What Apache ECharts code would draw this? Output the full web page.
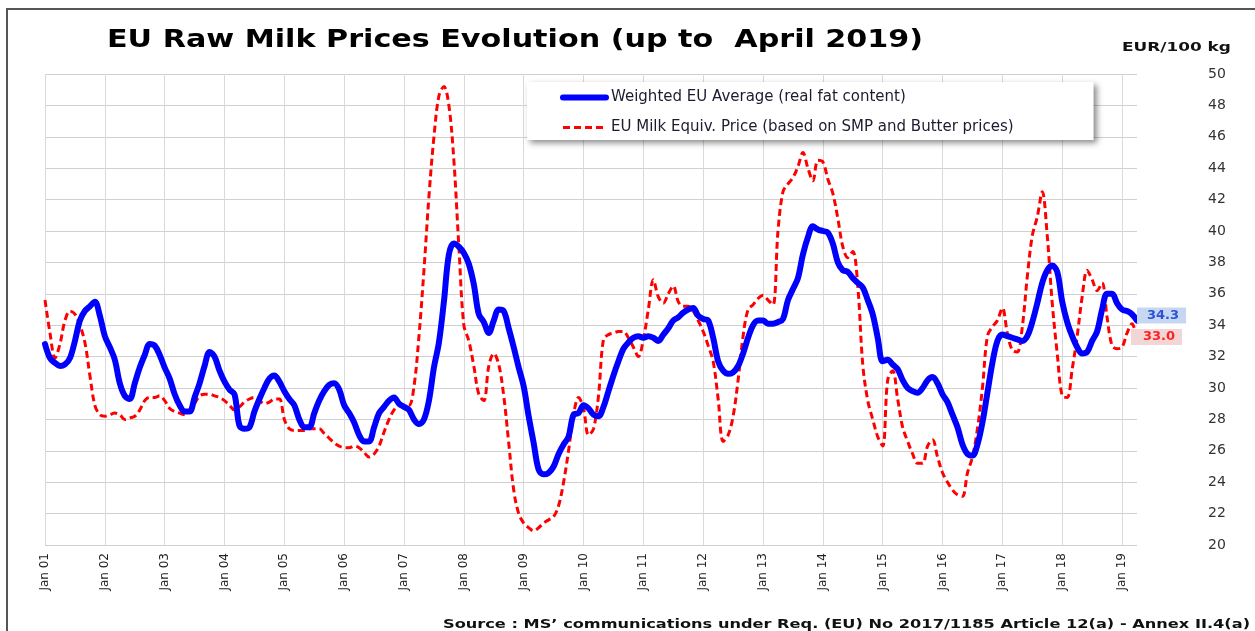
<!DOCTYPE html>
<html>
<head>
<meta charset="utf-8">
<title>EU Raw Milk Prices Evolution</title>
<script src="https://cdn.jsdelivr.net/npm/echarts@6/dist/echarts.min.js"></script>
<style>
  html, body { margin: 0; padding: 0; background: #fff; }
  #chart { width: 1255px; height: 631px; }
</style>
</head>
<body>
<div id="chart"></div>
<script>
// monthly values, Jan 2001 .. Apr 2019 (EUR/100 kg)
var startYear = 2001;
var monthNames = ['Jan','Feb','Mar','Apr','May','Jun','Jul','Aug','Sep','Oct','Nov','Dec'];

var weightedAvg = [
	32.8,31.9,31.6,31.4,31.5,31.9,33.0,34.3,34.9,35.2,35.5,34.6, // 2001
	33.3,32.6,31.8,30.3,29.5,29.3,30.3,31.3,32.1,32.8,32.7,32.1, // 2002
	31.3,30.6,29.6,28.9,28.5,28.5,29.4,30.3,31.4,32.3,32.0,31.1, // 2003
	30.4,29.9,29.6,27.6,27.4,27.5,28.5,29.3,30.0,30.6,30.8,30.4, // 2004
	29.8,29.3,28.9,28.0,27.5,27.5,28.4,29.2,29.8,30.2,30.3,29.9, // 2005
	28.9,28.4,27.8,27.0,26.6,26.6,27.5,28.4,28.8,29.2,29.4,29.0, // 2006
	28.8,28.6,28.0,27.7,28.0,29.2,31.3,32.9,35.5,38.5,39.2,39.0, // 2007
	38.6,37.9,36.6,34.7,34.2,33.5,34.3,35.0,34.9,33.8,32.6,31.3, // 2008
	30.1,28.2,26.5,24.8,24.5,24.6,25.0,25.8,26.4,26.9,28.3,28.4, // 2009
	28.9,28.7,28.3,28.2,28.8,29.8,30.8,31.7,32.5,32.9,33.2,33.3, // 2010
	33.2,33.3,33.2,33.0,33.4,33.8,34.3,34.5,34.8,35.0,35.1,34.6, // 2011
	34.4,34.3,33.2,31.7,31.1,30.9,31.0,31.4,32.2,33.2,34.0,34.3, // 2012
	34.3,34.1,34.1,34.2,34.4,35.6,36.3,37.0,38.5,39.6,40.3,40.1, // 2013
	40.0,39.9,39.2,38.0,37.5,37.4,37.0,36.7,36.4,35.6,34.7,33.2, // 2014
	31.7,31.8,31.5,31.2,30.5,30.0,29.8,29.7,30.0,30.5,30.7,30.3, // 2015
	29.6,29.1,28.3,27.5,26.4,25.8,25.7,26.4,27.8,29.7,31.6,33.0, // 2016
	33.4,33.3,33.2,33.1,33.0,33.3,34.2,35.4,36.7,37.5,37.8,37.4, // 2017
	35.5,34.2,33.3,32.6,32.2,32.3,33.0,33.6,35.0,36.0,36.0,35.4, // 2018
	35.0,34.9,34.7,34.3                                          // 2019
];

var milkEquiv = [
	35.6,33.5,31.9,32.8,34.3,34.9,34.7,34.0,32.9,30.8,28.9,28.3, // 2001
	28.2,28.3,28.4,28.3,28.0,28.1,28.2,28.6,29.2,29.4,29.4,29.5, // 2002
	29.2,28.7,28.5,28.4,28.3,28.5,29.0,29.5,29.6,29.6,29.5,29.4, // 2003
	29.2,28.9,28.6,28.8,29.1,29.3,29.4,29.2,29.0,29.1,29.3,29.3, // 2004
	28.0,27.4,27.3,27.3,27.3,27.4,27.4,27.4,27.1,26.8,26.5,26.3, // 2005
	26.2,26.2,26.3,26.2,25.9,25.6,25.8,26.3,27.2,28.0,28.6,28.9, // 2006
	28.9,28.9,30.1,33.3,37.5,42.2,46.0,48.6,49.2,48.0,44.5,39.0, // 2007
	34.0,33.0,31.4,29.6,29.2,31.4,32.2,31.5,29.5,26.5,23.5,22.0, // 2008
	21.4,21.1,20.9,21.1,21.4,21.6,21.8,22.5,24.0,26.0,28.3,29.4, // 2009
	28.7,27.0,27.4,29.5,33.1,33.4,33.5,33.6,33.6,33.2,32.6,32.0, // 2010
	33.1,35.0,36.9,35.8,35.4,36.0,36.5,35.5,35.2,35.2,34.9,34.3, // 2011
	33.6,32.7,31.7,29.3,26.6,27.0,28.2,30.5,33.3,35.0,35.3,35.7, // 2012
	35.9,35.6,35.3,40.0,42.5,43.0,43.4,44.1,45.0,44.0,43.2,44.5, // 2013
	44.4,43.3,42.4,40.8,39.0,38.3,38.7,36.5,31.5,29.2,28.0,26.9, // 2014
	26.3,30.5,31.1,29.3,27.5,26.6,25.8,25.2,25.2,26.3,26.7,25.6, // 2015
	24.6,24.0,23.5,23.2,23.1,24.6,25.6,27.4,30.0,33.3,33.9,34.3, // 2016
	35.1,33.5,32.4,32.3,33.9,37.1,39.7,40.9,42.5,39.7,35.4,32.2, // 2017
	29.5,29.4,31.2,33.3,35.8,37.5,36.9,36.2,36.7,34.5,32.7,32.5, // 2018
	32.6,33.5,34.1,33.0                                          // 2019
];

var seriesNames = [
	'Weighted EU Average (real fat content)',
	'EU Milk Equiv. Price (based on SMP and Butter prices)'
];

var months = [];
for (var i = 0; i < weightedAvg.length; i++) {
	var yy = startYear + Math.floor(i / 12);
	months.push(monthNames[i % 12] + ' ' + String(yy).slice(2));
}

var FONT = 'DejaVu Sans, Verdana, sans-serif';

// the original picture is a bit wider than tall, texts are stretched to match
var myChart = echarts.init(document.getElementById('chart'), null, { renderer: 'canvas' });
myChart.setOption({
	animation: false,
	backgroundColor: '#fff',
	textStyle: { fontFamily: FONT },
	legend: {
		orient: 'vertical',
		left: 527,
		top: 82,
		padding: [8, 80, 5, 33],
		itemWidth: 43,
		itemHeight: 14,
		itemGap: 15,
		backgroundColor: '#fff',
		shadowColor: 'rgba(0,0,0,0.45)',
		shadowBlur: 6,
		shadowOffsetX: 3,
		shadowOffsetY: 3,
		itemStyle: { opacity: 0 },
		lineStyle: { width: 'inherit' },
		textStyle: { fontFamily: FONT, fontSize: 15, color: '#1c1c30' },
		data: seriesNames
	},
	grid: { left: 45, right: 118, top: 74, bottom: 86 },
	xAxis: {
		type: 'category',
		data: months,
		boundaryGap: false,
		axisLine: { show: false },
		axisTick: { show: false },
		axisLabel: {
			interval: function (idx) { return idx % 12 === 0; },
			rotate: 90,
			margin: 8,
			fontSize: 12,
			color: '#222',
			fontFamily: FONT
		},
		splitLine: {
			show: true,
			interval: function (idx) { return idx % 12 === 0; },
			lineStyle: { color: '#d9d9d9', width: 1 }
		}
	},
	yAxis: {
		type: 'value',
		position: 'right',
		min: 20,
		max: 50,
		interval: 2,
		axisLine: { show: false },
		axisTick: { show: false },
		axisLabel: { margin: 71, fontSize: 14, color: '#333', fontFamily: FONT },
		splitLine: { lineStyle: { color: '#d0d0d0', width: 1 } }
	},
	series: [
		{
			name: seriesNames[1],
			type: 'line',
			data: milkEquiv,
			symbol: 'none',
			smooth: 0.35,
			z: 3,
			lineStyle: { color: '#ff0000', width: 3, type: [7, 4] },
			itemStyle: { color: '#ff0000' },
			endLabel: {
				show: true,
				distance: 0,
				offset: [-6, -4],
				formatter: function (p) { return Number(p.value).toFixed(1); },
				color: '#ff2020',
				fontWeight: 'bold',
				fontSize: 13,
				fontFamily: FONT,
				backgroundColor: '#f2d6d6',
				padding: [2, 7, 1, 12]
			}
		},
		{
			name: seriesNames[0],
			type: 'line',
			data: weightedAvg,
			symbol: 'none',
			smooth: 0.35,
			z: 4,
			lineStyle: { color: '#0000ff', width: 6, cap: 'round', join: 'round' },
			itemStyle: { color: '#0000ff' },
			endLabel: {
				show: true,
				distance: 0,
				offset: [0, -5],
				formatter: function (p) { return Number(p.value).toFixed(1); },
				color: '#3050d8',
				fontWeight: 'bold',
				fontSize: 13,
				fontFamily: FONT,
				backgroundColor: '#c6d8f1',
				padding: [2, 7, 1, 10]
			}
		}
	],
	graphic: [
		{
			type: 'rect',
			silent: true,
			shape: { x: 7, y: 9, width: 1300, height: 700 },
			style: { fill: 'none', stroke: '#555', lineWidth: 2 }
		},
		{
			type: 'text',
			x: 107,
			y: 41,
			scaleX: 1.258,
			style: {
				text: 'EU Raw Milk Prices Evolution (up to  April 2019)',
				font: 'bold 24px ' + FONT,
				fill: '#000',
				verticalAlign: 'middle'
			}
		},
		{
			type: 'text',
			x: 1122,
			y: 48,
			scaleX: 1.3,
			style: { text: 'EUR/100 kg', font: 'bold 13px ' + FONT, fill: '#111', verticalAlign: 'middle' }
		},
		{
			type: 'text',
			x: 443,
			y: 625,
			scaleX: 1.245,
			style: {
				text: 'Source : MS\u2019 communications under Req. (EU) No 2017/1185 Article 12(a) - Annex II.4(a)',
				font: 'bold 13px ' + FONT,
				fill: '#111',
				verticalAlign: 'middle'
			}
		}
	]
});
</script>
</body>
</html>
